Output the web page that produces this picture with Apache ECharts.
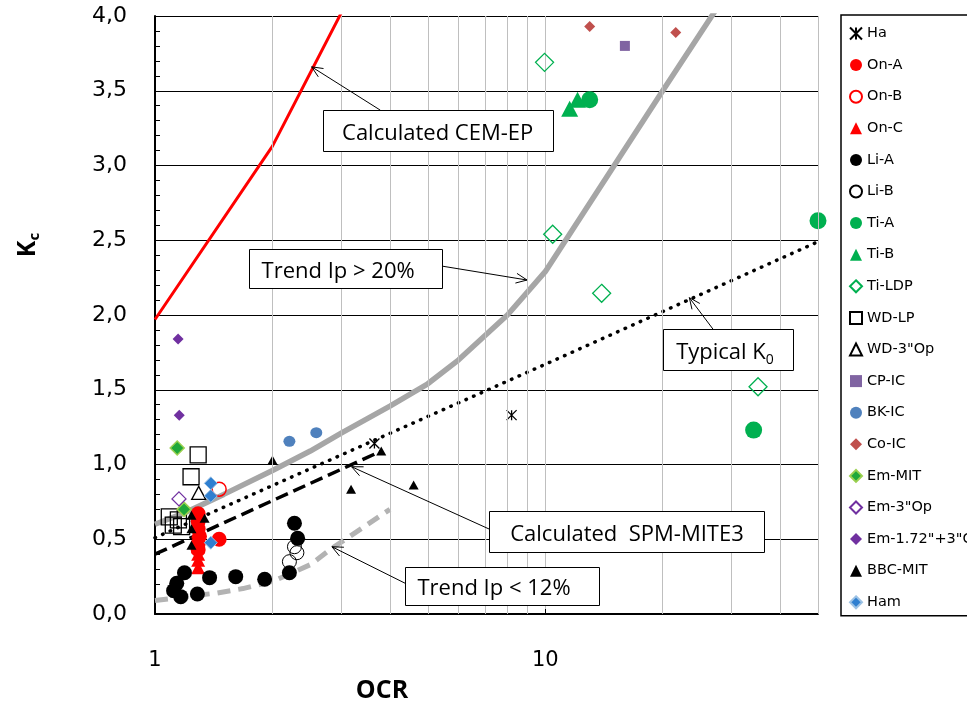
<!DOCTYPE html>
<html lang="en">
<head>
<meta charset="UTF-8">
<title>Kc - OCR</title>
<script src="https://cdn.jsdelivr.net/npm/echarts@6/dist/echarts.min.js"></script>
<style>
	html, body { margin: 0; padding: 0; background: #fff; }
	#main { width: 967px; height: 705px; }
</style>
</head>
<body>
<div id="main"></div>
<script type="text/javascript">
	// points: [OCR, Kc]
	var ha = [[3.65, 1.14], [8.2, 1.33]];
	var onA = [[1.29, 0.67], [1.29, 0.62], [1.29, 0.57], [1.30, 0.52], [1.29, 0.47], [1.29, 0.43], [1.46, 0.50]];
	var onB = [[1.46, 0.835]];
	var onC = [[1.29, 0.64], [1.29, 0.55], [1.29, 0.45], [1.29, 0.40], [1.29, 0.36], [1.29, 0.31]];
	var liA = [[1.19, 0.276], [1.137, 0.205], [1.116, 0.156], [1.164, 0.116], [1.284, 0.134], [1.38, 0.243],
		[1.61, 0.25], [1.91, 0.232], [2.21, 0.276], [2.277, 0.607], [2.32, 0.506]];
	var liB = [[2.277, 0.45], [2.31, 0.41], [2.21, 0.35]];
	var tiA = [[13.0, 3.44], [34.2, 1.23], [50, 2.63]];
	var tiB = [[11.55, 3.38], [12.1, 3.44]];
	var tiLDP = [[9.96, 3.69], [10.45, 2.54], [13.95, 2.145], [35.1, 1.52]];
	var wdLP = [[1.29, 1.064], [1.237, 0.918], [1.088, 0.65], [1.148, 0.63], [1.114, 0.595], [1.17, 0.584]];
	var wd3Op = [[1.294, 0.81]];
	var cpIC = [[16.0, 3.80]];
	var bkIC = [[2.21, 1.155], [2.59, 1.213]];
	var coIC = [[13.0, 3.93], [21.6, 3.89]];
	var emMIT = [[1.14, 1.11], [1.187, 0.70]];
	var em3Op = [[1.152, 0.77]];
	var em172 = [[1.154, 1.33], [1.146, 1.84]];
	var bbcMIT = [[1.24, 0.66], [1.24, 0.57], [1.24, 0.46], [1.34, 0.64], [2.0, 1.03], [3.18, 0.834], [3.8, 1.09], [4.6, 0.863]];
	var ham = [[1.39, 0.874], [1.39, 0.79], [1.39, 0.477]];

	// curves
	var cemEP = [[1, 1.97], [2, 3.13], [3, 4.02]];
	var trendHigh = [[1, 0.6], [1.2, 0.68], [1.5, 0.8], [2, 0.96], [2.5, 1.09], [3, 1.21], [4, 1.39],
		[5, 1.54], [6, 1.70], [8, 2.0], [10, 2.29], [20, 3.5], [30, 4.2]];
	var typicalK0 = [[1, 0.51], [10, 1.67], [50, 2.49]];
	var spmMite3 = [[1, 0.40], [3.8, 1.09]];
	var trendLow = [[1, 0.09], [1.23, 0.12], [1.44, 0.14], [1.68, 0.17], [2.01, 0.22], [2.5, 0.33],
		[2.84, 0.44], [3.16, 0.52], [4.0, 0.70]];

	// log-axis minor grid values and x tick labels
	var xMinorGrid = [2, 3, 4, 5, 6, 7, 8, 9, 20, 30, 40, 50];
	var xLabels = [1, 10];

	// callout boxes: text, centre / arrow start / arrow tip in data units
	var notes = [
		{ text: 'Calculated CEM-EP', at: [5.30, 3.235], w: 230, h: 41, from: [3.78, 3.37], tip: [2.52, 3.66], dx: 0 },
		{ text: 'Trend Ip > 20%', at: [3.07, 2.31], w: 193, h: 39, from: [5.41, 2.328], tip: [8.98, 2.234], dx: -7 },
		{ text: '{a|Typical K}{s|0}', at: [29.4, 1.769], w: 130, h: 41, from: [26.9, 1.906], tip: [23.4, 2.116], dx: -3 },
		{ text: 'Calculated  SPM-MITE3', at: [16.2, 0.55], w: 275, h: 41, from: [7.2, 0.567], tip: [3.19, 0.985], dx: 0 },
		{ text: 'Trend Ip < 12%', at: [7.75, 0.186], w: 194, h: 38, from: [4.38, 0.205], tip: [2.84, 0.45], dx: -8 }
	];

	var chart = echarts.init(document.getElementById('main'));

	function sc(name, data, symbol, size, fill, stroke, bw) {
		return {
			type: 'scatter', name: name, data: data, symbol: symbol, symbolSize: size,
			clip: false, z: 3,
			itemStyle: { color: fill, borderColor: stroke || fill, borderWidth: bw || 0, opacity: 1 },
			emphasis: { disabled: true }
		};
	}
	function ln(name, data, color, width, type, cap) {
		return {
			type: 'line', name: name, data: data, showSymbol: false, symbol: 'none', z: 2, silent: true,
			lineStyle: { color: color, width: width, type: type || 'solid', cap: cap || 'butt' },
			emphasis: { disabled: true }
		};
	}

	var none = 'rgba(0,0,0,0)';
	var scatters = [
		sc('Ha', ha, 'path://M0 0L10 10M10 0L0 10M5 0L5 10', 10, '#000', '#000', 1.3),
		sc('On-A', onA, 'circle', 15, '#ff0000'),
		sc('On-B', onB, 'circle', 14, none, '#ff0000', 1.5),
		sc('On-C', onC, 'triangle', [14, 13], '#ff0000'),
		sc('Li-A', liA, 'circle', 15, '#000'),
		sc('Li-B', liB, 'circle', 14, none, '#000', 1),
		sc('Ti-A', tiA, 'circle', 17, '#00b050'),
		sc('Ti-B', tiB, 'triangle', [17, 16], '#00b050'),
		sc('Ti-LDP', tiLDP, 'diamond', 18, none, '#00b050', 1.3),
		sc('WD-LP', wdLP, 'rect', 16, none, '#000', 1.3),
		sc('WD-3"Op', wd3Op, 'triangle', [14, 13], none, '#000', 1.3),
		sc('CP-IC', cpIC, 'rect', 10, '#8064a2'),
		sc('BK-IC', bkIC, 'circle', [12, 11], '#4f81bd'),
		sc('Co-IC', coIC, 'diamond', 11, '#c0504d'),
		sc('Em-MIT', emMIT, 'diamond', 14, '#1fa83a', '#9bd050', 1.5),
		sc('Em-3"Op', em3Op, 'diamond', 14, none, '#7030a0', 1.3),
		sc('Em-1.72"+3"C', em172, 'diamond', 11, '#7030a0'),
		sc('BBC-MIT', bbcMIT, 'triangle', [10, 9], '#000'),
		sc('Ham', ham, 'diamond', 13, '#2f7fd0', '#9cc2e5', 1)
	];

	var lines = [
		ln('Calculated CEM-EP', cemEP, '#ff0000', 3),
		ln('Trend Ip > 20%', trendHigh, '#a6a6a6', 5.5),
		ln('Typical K0', typicalK0, '#000', 3.5, [0.5, 7.8], 'round'),
		ln('Calculated SPM-MITE3', spmMite3, '#000', 3.5, [13, 6]),
		ln('Trend Ip < 12%', trendLow, '#b3b3b3', 5, [13, 8])
	];

	var gridHelper = {
		type: 'line', name: 'grid', data: [], z: 1, silent: true,
		markLine: {
			silent: true, symbol: ['none', 'none'], label: { show: false },
			lineStyle: { color: '#bfbfbf', width: 1, type: 'solid' },
			emphasis: { disabled: true },
			data: xMinorGrid.map(function (v) { return { xAxis: v }; })
		}
	};

	var option = {
		animation: false,
		backgroundColor: '#fff',
		grid: { left: 155, top: 16, width: 663, height: 598 },
		xAxis: {
			type: 'log', logBase: 10, min: 1, max: 50,
			axisLine: { lineStyle: { color: '#000', width: 2 } },
			axisTick: { inside: true, length: 5, lineStyle: { color: '#000' } },
			axisLabel: {
				margin: 36, color: '#000', fontFamily: 'DejaVu Sans', fontSize: 21,
				showMaxLabel: false,
				formatter: function (v) {
					for (var i = 0; i < xLabels.length; i++) {
						if (Math.abs(v - xLabels[i]) < 1e-6) return String(xLabels[i]);
					}
					return '';
				}
			},
			splitLine: { show: true, lineStyle: { color: '#bfbfbf', width: 1 } }
		},
		yAxis: {
			type: 'value', min: 0, max: 4, interval: 0.5,
			axisLine: { show: true, lineStyle: { color: '#000', width: 2 } },
			axisTick: { show: true, inside: true, length: 5, lineStyle: { color: '#000' } },
			minorTick: { show: true, splitNumber: 5, length: 5, lineStyle: { color: '#000' } },
			axisLabel: {
				margin: 28, color: '#000', fontFamily: 'DejaVu Sans', fontSize: 22,
				formatter: function (v) { return v.toFixed(1).replace('.', ','); }
			},
			splitLine: { lineStyle: { color: '#000', width: 1 } }
		},
		legend: {
			orient: 'vertical', left: 841, top: 15,
			padding: [11, 10, 6, 8], itemGap: 16.6, itemWidth: 12, itemHeight: 12,
			borderColor: '#000', borderWidth: 1.5, backgroundColor: '#fff',
			selectedMode: false,
			textStyle: { fontFamily: 'DejaVu Sans', fontSize: 14.5, color: '#000' },
			data: scatters.map(function (s) { return s.name; })
		},
		series: [gridHelper].concat(lines, scatters)
	};

	chart.setOption(option);

	// callouts and axis titles, placed through the chart's own scales
	function px(p) { return chart.convertToPixel({ gridIndex: 0 }, p); }
	function head(tip, from, len, ang) {
		var dx = from[0] - tip[0], dy = from[1] - tip[1];
		var d = Math.sqrt(dx * dx + dy * dy); dx /= d; dy /= d;
		function rot(a) {
			return [tip[0] + len * (dx * Math.cos(a) - dy * Math.sin(a)),
				tip[1] + len * (dx * Math.sin(a) + dy * Math.cos(a))];
		}
		return [rot(ang), tip, rot(-ang)];
	}

	var graphics = [];
	notes.forEach(function (n) {
		var c = px(n.at), f = px(n.from), t = px(n.tip);
		graphics.push({ type: 'line', silent: true, z: 90, shape: { x1: f[0], y1: f[1], x2: t[0], y2: t[1] },
			style: { stroke: '#000', lineWidth: 1 } });
		graphics.push({ type: 'polyline', silent: true, z: 90, shape: { points: head(t, f, 12, 0.42) },
			style: { stroke: '#000', lineWidth: 1, fill: null } });
		graphics.push({ type: 'rect', silent: true, z: 100,
			shape: { x: Math.round(c[0] - n.w / 2) + 0.5, y: Math.round(c[1] - n.h / 2) + 0.5, width: n.w, height: n.h },
			style: { fill: '#fff', stroke: '#000', lineWidth: 1 } });
		graphics.push({ type: 'text', silent: true, z: 101, x: c[0] + n.dx, y: c[1] + 3,
			style: {
				text: n.text, align: 'center', verticalAlign: 'middle', fill: '#000',
				fontFamily: 'Open Sans', fontSize: 22,
				rich: {
					a: { fontFamily: 'Open Sans', fontSize: 22, lineHeight: 28 },
					s: { fontFamily: 'Open Sans', fontSize: 14, lineHeight: 14, padding: [14, 0, 0, 0] }
				}
			} });
	});

	graphics.push({ type: 'text', silent: true, x: 382, y: 691,
		style: { text: 'OCR', align: 'center', verticalAlign: 'middle', fill: '#000',
			fontFamily: 'Open Sans', fontWeight: 'bold', fontSize: 25 } });
	graphics.push({ type: 'text', silent: true, x: 28, y: 245, rotation: Math.PI / 2,
		style: { text: '{k|K}{c|c}', align: 'center', verticalAlign: 'middle', fill: '#000',
			rich: {
				k: { fontFamily: 'Open Sans', fontWeight: 'bold', fontSize: 25, lineHeight: 30 },
				c: { fontFamily: 'Open Sans', fontWeight: 'bold', fontSize: 15, lineHeight: 15, padding: [14, 0, 0, 0] }
			} } });

	chart.setOption({ graphic: graphics });
</script>
</body>
</html>
